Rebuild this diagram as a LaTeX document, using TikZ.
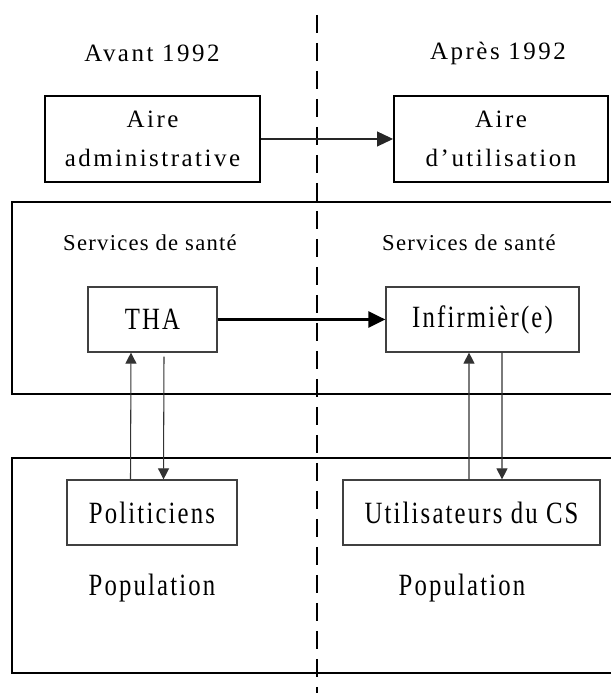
\documentclass[tikz,border=0pt]{standalone}
\usepackage{fontspec}
\setmainfont{Liberation Serif}
\newfontfamily\bigfont[FakeStretch=0.8,LetterSpace=7,Ligatures=NoCommon]{Liberation Serif}
\newfontfamily\medfont[LetterSpace=10,Ligatures=NoCommon]{Liberation Serif}
\newfontfamily\smlfont[LetterSpace=5.5,Ligatures=NoCommon]{Liberation Serif}
\usepackage{tikz}
\usetikzlibrary{arrows.meta}

\begin{document}
\begin{tikzpicture}[
  topbox/.style={draw,line width=1.1pt,inner sep=0pt,minimum height=1.72cm,align=center,
    font=\medfont\fontsize{14.2}{22}\selectfont},
  inbox/.style={draw=black!75,line width=0.7pt,inner sep=0pt,minimum height=1.3cm,
    font=\bigfont\fontsize{17.6}{20}\selectfont},
  zone/.style={line width=1.4pt},
  head/.style={font=\medfont\fontsize{14.2}{17}\selectfont},
  sub/.style={font=\smlfont\fontsize{12.9}{15}\selectfont},
  pop/.style={font=\bigfont\fontsize{17.6}{20}\selectfont},
  arr/.style={-{Triangle[length=0.32cm,width=0.3cm]},line width=0.6pt,black!85},
  arrb/.style={-{Triangle[length=0.34cm,width=0.32cm]},line width=1.5pt},
  varr/.style={-{Triangle[length=0.22cm,width=0.22cm]},line width=0.6pt,black!80}]
  \clip (0,0) rectangle (12.22,13.86);
  % Zones
  \draw[zone] (0.24,9.82) rectangle (12.5,5.98);
  \draw[zone] (0.24,4.7) rectangle (12.5,0.4);
  % Separation
  \draw[line width=1.1pt,dash pattern=on 0.36cm off 0.2cm] (6.34,13.56) -- (6.34,0);
  % Titles
  \node[head] (avant) at (3.04,12.8) {Avant 1992};
  \node[head] (apres) at (9.96,12.8) {Après 1992};
  % Aires
  \node[topbox,minimum width=4.3cm] (admin) at (3.05,11.08) {Aire\\administrative};
  \node[topbox,minimum width=4.28cm] (util) at (10.02,11.08) {Aire\\d’utilisation};
  \draw[arr] (admin) -- (util);
  % Services de sante
  \node[sub] (sante1) at (3.0,9.0) {Services de santé};
  \node[sub] (sante2) at (9.38,9.0) {Services de santé};
  \node[inbox,minimum width=2.58cm] (tha) at (3.05,7.47) {THA};
  \node[inbox,minimum width=3.86cm] (inf) at (9.65,7.47) {Infirmièr(e)};
  \draw[arrb] (tha) -- (inf);
  % Population
  \node[inbox,minimum width=3.4cm] (pol) at (3.04,3.61) {Politiciens};
  \node[inbox,minimum width=5.14cm] (usr) at (9.43,3.61) {Utilisateurs du CS};
  \node[pop] (pop1) at (3.04,2.1) {Population};
  \node[pop] (pop2) at (9.24,2.1) {Population};
  % Liens verticaux
  \draw[varr] ([xshift=-0.43cm]pol.north) -- ([xshift=-0.43cm]tha.south);
  \draw[varr] ([xshift=0.23cm,yshift=-0.08cm]tha.south) -- ([xshift=0.23cm]pol.north);
  \draw[varr] ([xshift=-0.05cm]usr.north) -- ([xshift=-0.27cm]inf.south);
  \draw[varr] ([xshift=0.39cm]inf.south) -- ([xshift=0.61cm]usr.north);
\end{tikzpicture}
\end{document}
